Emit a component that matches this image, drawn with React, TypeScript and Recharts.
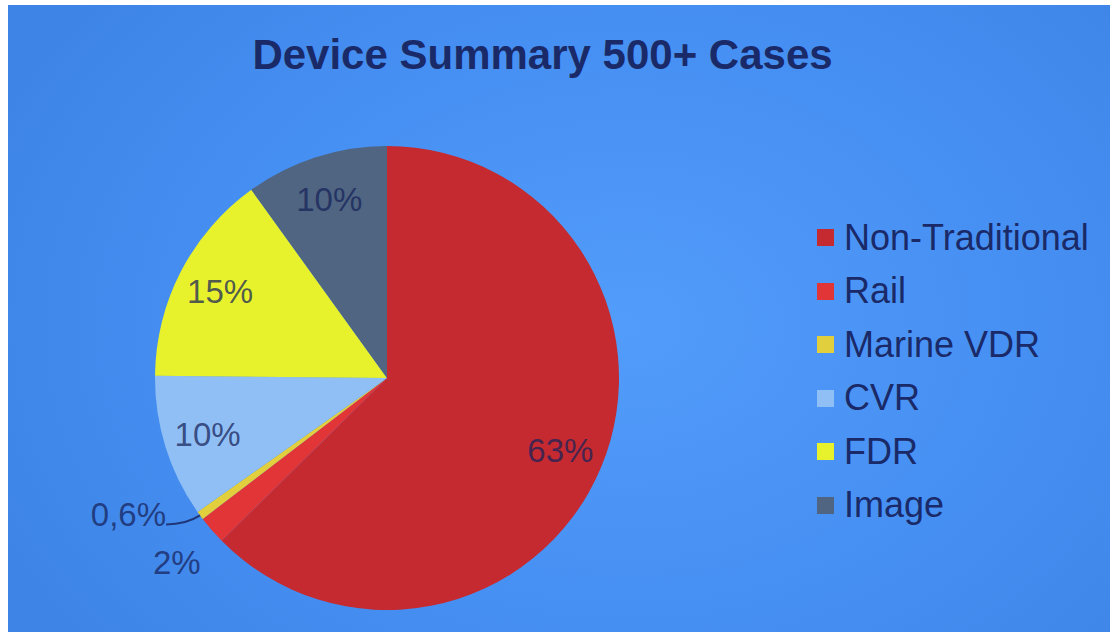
import React from "react";
import { PieChart, Pie, Cell, Legend } from "recharts";

// Device categories and their share of cases (percent)
const categories = ["Non-Traditional", "Rail", "Marine VDR", "CVR", "FDR", "Image"];
const shares = [63, 2, 0.6, 10, 15, 10];
const shareLabels = ["63%", "2%", "0,6%", "10%", "15%", "10%"];
const colors = ["#c42a30", "#e13538", "#e2cf3e", "#8fbff4", "#e8f22c", "#4f6581"];

const data = categories.map((name, i) => ({ name, value: shares[i], label: shareLabels[i] }));

const FONT = '"Liberation Sans", Arial, sans-serif';
const TEXT = "#16225a";
const RAD = Math.PI / 180;

const renderLabel = (props: any) => {
  const { cx, cy, midAngle, outerRadius, index, percent } = props;
  const text = shareLabels[index];
  const common = {
    fontFamily: FONT,
    fontSize: 33,
    fill: TEXT,
    fillOpacity: 0.74,
  };
  if (percent > 0.05) {
    const r = outerRadius * 0.81;
    const x = cx + r * Math.cos(-midAngle * RAD);
    const y = cy + r * Math.sin(-midAngle * RAD);
    return (
      <text x={x} y={y} textAnchor="middle" dominantBaseline="central" {...common}>
        {text}
      </text>
    );
  }
  if (percent > 0.01) {
    // small slice: label sits just outside the rim
    const r = outerRadius * 1.2;
    const x = cx + r * Math.cos(-midAngle * RAD);
    const y = cy + r * Math.sin(-midAngle * RAD);
    return (
      <text x={x} y={y + 2} textAnchor="middle" dominantBaseline="central" {...common}>
        {text}
      </text>
    );
  }
  // tiny slice: label pulled sideways with a short leader line
  const ex = cx + outerRadius * Math.cos(-midAngle * RAD);
  const ey = cy + outerRadius * Math.sin(-midAngle * RAD);
  const tx = ex - 34;
  const ty = ey + 9;
  return (
    <g>
      <path
        d={`M${ex},${ey} Q${ex - 14},${ey + 9} ${tx},${ty}`}
        stroke={TEXT}
        strokeOpacity={0.8}
        strokeWidth={2}
        fill="none"
      />
      <text x={tx} y={ty - 10} textAnchor="end" dominantBaseline="central" {...common}>
        {text}
      </text>
    </g>
  );
};

// Legend rows keep the data order
const renderLegend = () => (
  <div style={{ fontFamily: FONT }}>
    {categories.map((name, i) => (
      <div key={name} style={{ display: "flex", alignItems: "center", height: 53.5 }}>
        <span
          style={{
            display: "inline-block",
            width: 17,
            height: 17,
            background: colors[i],
            marginRight: 10,
          }}
        />
        <span style={{ fontSize: 36, color: "#1a2a68", lineHeight: "40px" }}>{name}</span>
      </div>
    ))}
  </div>
);

export default function App() {
  return (
    <div
      style={{
        position: "fixed",
        left: 0,
        top: 0,
        width: 1110,
        height: 632,
        background: "#ffffff",
        overflow: "hidden",
      }}
    >
      <div
        style={{
          position: "absolute",
          left: 8,
          top: 5,
          right: 0,
          bottom: 0,
          background:
            "radial-gradient(ellipse 700px 520px at 620px 320px, #529cfb 0%, #4790f3 55%, #3d84e6 100%)",
        }}
      />
      <div
        style={{
          position: "absolute",
          left: 0,
          top: 30,
          width: 1085,
          textAlign: "center",
          fontFamily: FONT,
          fontWeight: "bold",
          fontSize: 42,
          color: "#1a2a68",
          lineHeight: "50px",
        }}
      >
        Device Summary 500+ Cases
      </div>
      <div style={{ position: "absolute", left: 0, top: 0 }}>
        <PieChart width={1110} height={632} margin={{ top: 0, right: 0, bottom: 0, left: 0 }}>
          <Pie
            data={data}
            dataKey="value"
            nameKey="name"
            cx={387}
            cy={378}
            outerRadius={232}
            startAngle={90}
            endAngle={-270}
            stroke="none"
            label={renderLabel}
            labelLine={false}
            isAnimationActive={false}
          >
            {data.map((d, i) => (
              <Cell key={d.name} fill={colors[i]} />
            ))}
          </Pie>
          <Legend
            layout="vertical"
            align="right"
            verticalAlign="top"
            content={renderLegend}
            wrapperStyle={{ left: 817, top: 211, width: 290 }}
          />
        </PieChart>
      </div>
    </div>
  );
}
